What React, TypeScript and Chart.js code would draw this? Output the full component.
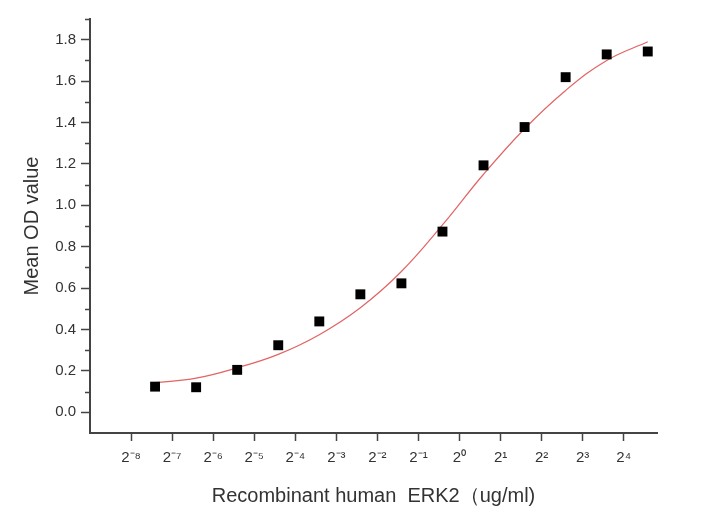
import React, { useEffect, useRef } from "react";
import { Chart, registerables } from "chart.js";

Chart.register(...registerables);

// Concentrations (ug/ml), two-fold dilution series
const concentrations = [0.005859375, 0.01171875, 0.0234375, 0.046875, 0.09375, 0.1875, 0.375, 0.75, 1.5, 3, 6, 12, 24];
// Measured mean OD values
const meanOD = [0.124, 0.121, 0.205, 0.324, 0.439, 0.57, 0.623, 0.873, 1.193, 1.378, 1.619, 1.729, 1.743];
// Fitted curve at the same concentrations
const fitOD = [0.143, 0.165, 0.215, 0.28, 0.375, 0.505, 0.68, 0.905, 1.15, 1.37, 1.555, 1.7, 1.79];

const xTickExponents = [-8, -7, -6, -5, -4, -3, -2, -1, 0, 1, 2, 3, 4];
const xTickLabels = ["2⁻⁸", "2⁻⁷", "2⁻⁶", "2⁻⁵", "2⁻⁴", "2⁻³", "2⁻²", "2⁻¹", "2⁰", "2¹", "2²", "2³", "2⁴"];
const yMajorTicks = [0, 0.2, 0.4, 0.6, 0.8, 1.0, 1.2, 1.4, 1.6, 1.8];
const yMinorTicks = [0.1, 0.3, 0.5, 0.7, 0.9, 1.1, 1.3, 1.5, 1.7, 1.9];

const FONT = "'Liberation Sans', Arial, sans-serif";
const AXIS = "#444";

const minorTicksPlugin = {
  id: "minorTicks",
  afterDraw(chart: any) {
    const y = chart.scales.y;
    const ctx = chart.ctx;
    const left = chart.chartArea.left;
    ctx.save();
    ctx.strokeStyle = AXIS;
    ctx.lineWidth = 1.5;
    ctx.beginPath();
    for (const v of yMinorTicks) {
      const py = Math.round(y.getPixelForValue(v)) + 0.5;
      ctx.moveTo(left - 5, py);
      ctx.lineTo(left, py);
    }
    ctx.stroke();
    ctx.restore();
  },
};

export default function App() {
  const ref = useRef<HTMLCanvasElement | null>(null);

  useEffect(() => {
    document.body.style.margin = "0";
    const canvas = ref.current;
    if (!canvas) return;
    const chart = new Chart(canvas, {
      type: "scatter",
      data: {
        datasets: [
          {
            type: "line",
            label: "fit",
            data: concentrations.map((c, i) => ({ x: c, y: fitOD[i] })),
            borderColor: "rgb(226,100,100)",
            borderWidth: 1.2,
            pointRadius: 0,
            tension: 0.4,
            fill: false,
            order: 2,
          },
          {
            type: "scatter",
            label: "Mean OD",
            data: concentrations.map((c, i) => ({ x: c, y: meanOD[i] })),
            pointStyle: "rect",
            pointRadius: 7,
            backgroundColor: "#000",
            borderColor: "#000",
            borderWidth: 0,
            order: 1,
          },
        ],
      } as any,
      options: {
        animation: false,
        responsive: false,
        maintainAspectRatio: false,
        layout: { padding: { left: 0, top: 19, right: 51, bottom: 0 } },
        plugins: { legend: { display: false }, tooltip: { enabled: false } },
        scales: {
          x: {
            type: "logarithmic",
            min: Math.pow(2, -9),
            max: Math.pow(2, 4.81),
            afterBuildTicks: (scale: any) => {
              scale.ticks = xTickExponents.map((e) => ({ value: Math.pow(2, e) }));
            },
            afterFit: (scale: any) => {
              scale.height = 75;
            },
            ticks: {
              autoSkip: false,
              maxRotation: 0,
              padding: 8,
              color: "#333",
              font: { family: FONT, size: 15 },
              callback: (_v: any, i: number) => xTickLabels[i],
            },
            grid: {
              display: true,
              drawOnChartArea: false,
              drawTicks: true,
              tickLength: 8,
              tickColor: AXIS,
              tickWidth: 1.5,
            },
            border: { display: true, color: AXIS, width: 2 },
            title: {
              display: true,
              text: "Recombinant human  ERK2（ug/ml)",
              color: "#333",
              font: { family: FONT, size: 20 },
              padding: { top: 3, bottom: 0 },
            },
          },
          y: {
            type: "linear",
            min: -0.1,
            max: 1.9,
            afterBuildTicks: (scale: any) => {
              scale.ticks = yMajorTicks.map((v) => ({ value: v }));
            },
            afterFit: (scale: any) => {
              scale.width = 90;
            },
            ticks: {
              padding: 5,
              color: "#333",
              font: { family: FONT, size: 15 },
              callback: (v: any) => Number(v).toFixed(1),
            },
            grid: {
              display: true,
              drawOnChartArea: false,
              drawTicks: true,
              tickLength: 9,
              tickColor: AXIS,
              tickWidth: 1.5,
            },
            border: { display: true, color: AXIS, width: 2 },
            title: {
              display: true,
              text: "Mean OD value",
              color: "#333",
              font: { family: FONT, size: 20 },
              padding: { top: 20, bottom: 0 },
            },
          },
        },
      },
      plugins: [minorTicksPlugin],
    });
    return () => chart.destroy();
  }, []);

  return (
    <div style={{ position: "absolute", left: 0, top: 0, width: 708, height: 508, background: "#fff" }}>
      <canvas ref={ref} width={708} height={508} />
    </div>
  );
}
